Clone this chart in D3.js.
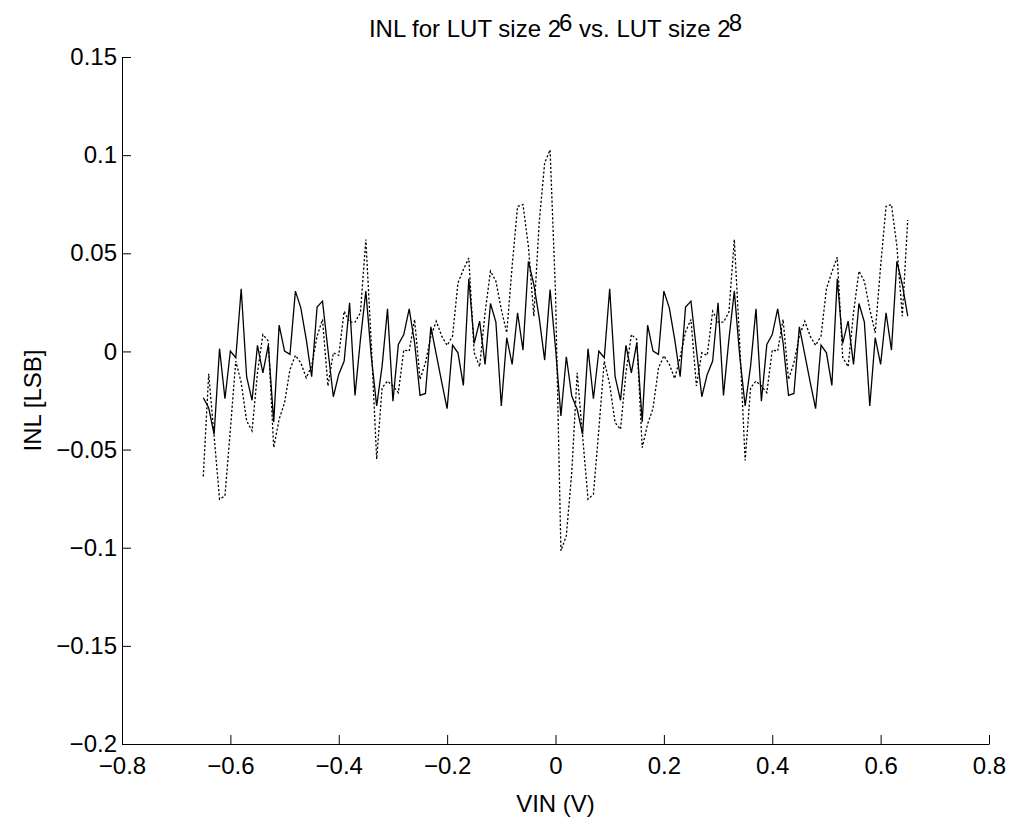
<!DOCTYPE html>
<html>
<head>
<meta charset="utf-8">
<script src="https://cdn.jsdelivr.net/npm/d3@7"></script>
<style>
  body { margin: 0; background: #fff; }
  svg { font-family: "Liberation Sans", Arial, Helvetica, sans-serif; }
</style>
</head>
<body>
<div id="wrapper"></div>
<script>
// input voltage samples (V)
const vin = [
  -0.65, -0.64, -0.63, -0.62, -0.61, -0.60, -0.59, -0.58, -0.57, -0.56,
  -0.55, -0.54, -0.53, -0.52, -0.51, -0.50, -0.49, -0.48, -0.47, -0.46,
  -0.45, -0.44, -0.43, -0.42, -0.41, -0.40, -0.39, -0.38, -0.37, -0.36,
  -0.35, -0.34, -0.33, -0.32, -0.31, -0.30, -0.29, -0.28, -0.27, -0.26,
  -0.25, -0.24, -0.23, -0.22, -0.21, -0.20, -0.19, -0.18, -0.17, -0.16,
  -0.15, -0.14, -0.13, -0.12, -0.11, -0.10, -0.09, -0.08, -0.07, -0.06,
  -0.05, -0.04, -0.03, -0.02, -0.01, 0.00, 0.01, 0.02, 0.03, 0.04,
  0.05, 0.06, 0.07, 0.08, 0.09, 0.10, 0.11, 0.12, 0.13, 0.14,
  0.15, 0.16, 0.17, 0.18, 0.19, 0.20, 0.21, 0.22, 0.23, 0.24,
  0.25, 0.26, 0.27, 0.28, 0.29, 0.30, 0.31, 0.32, 0.33, 0.34,
  0.35, 0.36, 0.37, 0.38, 0.39, 0.40, 0.41, 0.42, 0.43, 0.44,
  0.45, 0.46, 0.47, 0.48, 0.49, 0.50, 0.51, 0.52, 0.53, 0.54,
  0.55, 0.56, 0.57, 0.58, 0.59, 0.60, 0.61, 0.62, 0.63, 0.64,
  0.65
];

// INL, LUT size 2^8 (solid)
const inlLut8 = [
  -0.0236, -0.0287, -0.0422, 0.0014, -0.0241, 0.0002, -0.0032, 0.0319, -0.0129, -0.0249,
  0.0031, -0.0109, 0.0032, -0.0359, 0.0134, 0.0002, -0.0015, 0.0307, 0.0222, 0.0061,
  -0.0129, 0.0226, 0.0256, 0.0010, -0.0231, -0.0117, -0.0049, 0.0248, -0.0224, 0.0061,
  0.0307, -0.0024, -0.0278, -0.0075, 0.0217, -0.0253, 0.0036, 0.0086, 0.0217, 0.0044,
  -0.0224, -0.0214, 0.0125, -0.0015, -0.0156, -0.0292, 0.0032, -0.0007, -0.0173, 0.0370,
  0.0041, 0.0154, -0.0066, 0.0244, 0.0149, -0.0278, 0.0070, -0.0066, 0.0197, 0.0007,
  0.0459, 0.0341, 0.0170, -0.0044, 0.0315, 0.0019, -0.0329, -0.0027, -0.0227, -0.0295,
  -0.0422, 0.0014, -0.0241, 0.0002, -0.0032, 0.0319, -0.0129, -0.0249, 0.0031, -0.0109,
  0.0044, -0.0359, 0.0134, 0.0002, -0.0015, 0.0307, 0.0222, 0.0061, -0.0129, 0.0226,
  0.0256, 0.0010, -0.0231, -0.0117, -0.0049, 0.0248, -0.0224, 0.0061, 0.0307, -0.0024,
  -0.0278, -0.0075, 0.0217, -0.0253, 0.0036, 0.0086, 0.0217, 0.0044, -0.0224, -0.0214,
  0.0125, -0.0015, -0.0156, -0.0292, 0.0032, -0.0007, -0.0173, 0.0370, 0.0041, 0.0154,
  -0.0066, 0.0244, 0.0149, -0.0278, 0.0070, -0.0066, 0.0197, 0.0007, 0.0459, 0.0341,
  0.0180
];

// INL, LUT size 2^6 (dotted)
const inlLut6 = [
  -0.0637, -0.0114, -0.0431, -0.0753, -0.0736, -0.0397, -0.0049, -0.0159, -0.0354, -0.0405,
  -0.0109, 0.0086, 0.0053, -0.0490, -0.0346, -0.0261, -0.0092, -0.0020, -0.0058, -0.0134,
  -0.0075, 0.0078, 0.0163, -0.0176, -0.0007, -0.0020, 0.0205, 0.0149, 0.0149, 0.0197,
  0.0570, 0.0040, -0.0549, -0.0185, -0.0151, -0.0176, -0.0210, 0.0007, 0.0002, 0.0163,
  -0.0142, -0.0058, 0.0078, 0.0154, 0.0078, 0.0031, 0.0078, 0.0349, 0.0417, 0.0476,
  -0.0007, -0.0078, 0.0197, 0.0409, 0.0358, 0.0214, 0.0095, 0.0434, 0.0739, 0.0748,
  0.0536, 0.0180, 0.0660, 0.0960, 0.1027, 0.0300, -0.1016, -0.0939, -0.0617, -0.0109,
  -0.0431, -0.0753, -0.0727, -0.0397, -0.0049, -0.0168, -0.0363, -0.0397, -0.0109, 0.0086,
  0.0061, -0.0490, -0.0370, -0.0290, -0.0085, -0.0022, -0.0065, -0.0138, -0.0030, 0.0100,
  0.0163, -0.0176, -0.0007, -0.0020, 0.0205, 0.0149, 0.0149, 0.0200, 0.0570, 0.0040,
  -0.0555, -0.0185, -0.0151, -0.0176, -0.0210, 0.0007, 0.0002, 0.0163, -0.0142, -0.0058,
  0.0078, 0.0154, 0.0078, 0.0031, 0.0078, 0.0320, 0.0405, 0.0480, -0.0030, -0.0078,
  0.0197, 0.0409, 0.0358, 0.0214, 0.0095, 0.0434, 0.0739, 0.0748, 0.0536, 0.0180,
  0.0670
];

const xTicks = [-0.8, -0.6, -0.4, -0.2, 0, 0.2, 0.4, 0.6, 0.8];
const xTickLabels = ["\u22120.8", "\u22120.6", "\u22120.4", "\u22120.2", "0", "0.2", "0.4", "0.6", "0.8"];
const yTicks = [-0.2, -0.15, -0.1, -0.05, 0, 0.05, 0.1, 0.15];
const yTickLabels = ["\u22120.2", "\u22120.15", "\u22120.1", "\u22120.05", "0", "0.05", "0.1", "0.15"];

function drawChart() {
  let dimensions = {
    width: 1015,
    height: 830,
    margin: { top: 57, right: 26, bottom: 86, left: 122 },
  };
  dimensions.boundedWidth = dimensions.width - dimensions.margin.left - dimensions.margin.right;
  dimensions.boundedHeight = dimensions.height - dimensions.margin.top - dimensions.margin.bottom;

  const wrapper = d3.select("#wrapper")
    .append("svg")
    .attr("width", dimensions.width)
    .attr("height", dimensions.height);

  wrapper.append("rect")
    .attr("width", dimensions.width)
    .attr("height", dimensions.height)
    .attr("fill", "#fff");

  const bounds = wrapper.append("g")
    .attr("transform", `translate(${dimensions.margin.left},${dimensions.margin.top})`);

  const xScale = d3.scaleLinear()
    .domain([-0.8, 0.8])
    .range([0, dimensions.boundedWidth]);

  const yScale = d3.scaleLinear()
    .domain([-0.2, 0.15])
    .range([dimensions.boundedHeight, 0]);

  const lineGenerator = yValues => d3.line()
    .x((d, i) => xScale(vin[i]))
    .y(d => yScale(d))(yValues);

  bounds.append("path")
    .attr("d", lineGenerator(inlLut6))
    .attr("fill", "none")
    .attr("stroke", "#000")
    .attr("stroke-width", 1.3)
    .attr("stroke-dasharray", "2.2,2");

  bounds.append("path")
    .attr("d", lineGenerator(inlLut8))
    .attr("fill", "none")
    .attr("stroke", "#000")
    .attr("stroke-width", 1.3);

  const fontSize = 24;

  const xAxisGenerator = d3.axisBottom(xScale)
    .tickValues(xTicks)
    .tickFormat((d, i) => xTickLabels[i])
    .tickSizeInner(-9)
    .tickSizeOuter(0)
    .tickPadding(13);

  const xAxis = bounds.append("g")
    .attr("transform", `translate(0,${dimensions.boundedHeight})`)
    .call(xAxisGenerator);

  const yAxisGenerator = d3.axisLeft(yScale)
    .tickValues(yTicks)
    .tickFormat((d, i) => yTickLabels[i])
    .tickSizeInner(-9)
    .tickSizeOuter(0)
    .tickPadding(5);

  const yAxis = bounds.append("g")
    .call(yAxisGenerator);

  [xAxis, yAxis].forEach(axis => {
    axis.selectAll("path, line").attr("stroke", "#000").attr("stroke-width", 1);
    axis.selectAll("text")
      .attr("fill", "#000")
      .style("font-size", fontSize + "px")
      .style("font-family", "'Liberation Sans', Arial, sans-serif");
  });

  // axis labels
  wrapper.append("text")
    .attr("x", dimensions.margin.left + xScale(0))
    .attr("y", 812)
    .attr("text-anchor", "middle")
    .style("font-size", fontSize + "px")
    .text("VIN (V)");

  wrapper.append("text")
    .attr("transform", `translate(41,${dimensions.margin.top + yScale(-0.025)}) rotate(-90)`)
    .attr("text-anchor", "middle")
    .style("font-size", fontSize + "px")
    .text("INL [LSB]");

  // title with superscripts
  const title = wrapper.append("text")
    .attr("x", dimensions.margin.left + xScale(0))
    .attr("y", 37)
    .attr("text-anchor", "middle")
    .style("font-size", fontSize + "px");
  title.append("tspan").text("INL for LUT size 2");
  title.append("tspan").attr("dy", -6).attr("dx", -2).text("6");
  title.append("tspan").attr("dy", 6).text(" vs. LUT size 2");
  title.append("tspan").attr("dy", -6).attr("dx", -2).text("8");
}

drawChart();
</script>
</body>
</html>
